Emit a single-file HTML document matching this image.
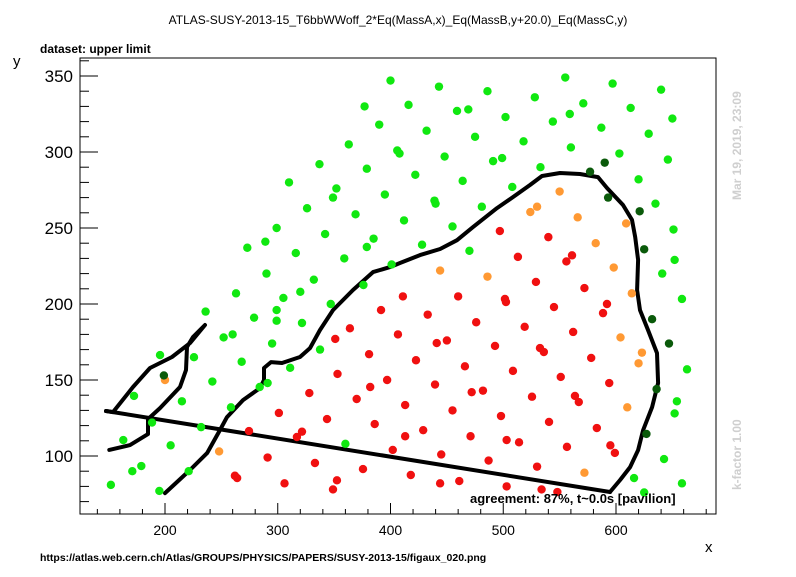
<!DOCTYPE html>
<html><head><meta charset="utf-8"><style>
html,body{margin:0;padding:0;background:#fff;}
body{width:796px;height:572px;overflow:hidden;font-family:"Liberation Sans",Arial,sans-serif;}
svg text{font-family:"Liberation Sans",Arial,sans-serif;}
</style></head><body>
<svg id="chart" width="796" height="572" viewBox="0 0 796 572" xmlns="http://www.w3.org/2000/svg">
<rect x="0" y="0" width="796" height="572" fill="#fff"/>
<text x="398" y="24" font-size="12" text-anchor="middle">ATLAS-SUSY-2013-15_T6bbWWoff_2*Eq(MassA,x)_Eq(MassB,y+20.0)_Eq(MassC,y)</text>
<text x="40" y="53" font-size="12" font-weight="bold">dataset: upper limit</text>
<text x="13" y="66" font-size="15">y</text>
<text x="705" y="552" font-size="15">x</text>
<text x="40" y="561" font-size="10.5" font-weight="bold">https://atlas.web.cern.ch/Atlas/GROUPS/PHYSICS/PAPERS/SUSY-2013-15/figaux_020.png</text>
<text transform="translate(741,200) rotate(-90)" font-size="12" font-weight="bold" fill="#cfcfcf">Mar 19, 2019, 23:09</text>
<text transform="translate(741,490) rotate(-90)" font-size="12" font-weight="bold" fill="#cfcfcf">k-factor 1.00</text>
<g id="axes"></g>
<g id="lines"></g>
<g id="points"></g>
<text x="470" y="503" font-size="13" font-weight="bold">agreement: 87%, t~0.0s [pavilion]</text>
</svg>
<script>
// ---- data ----
const xTicks = [200, 300, 400, 500, 600];
const yTicks = [100, 150, 200, 250, 300, 350];
const greenX = [443,416,486,459,469,555,528,597,640,571,559,544,502,613,650,432,475,518,587,629,408,448,491,499,560,603,646,422,464,533,508,620,439,440,481,412,455,635,651,428,470,652,641,
400,377,390,363,406,337,379,310,352,349,395,326,369,299,342,289,273,316,385,379,359,290,332,401,376,
263,305,320,236,279,299,299,321.5,347,252,260,295,337.5,195.6,225.7,268,311,242,291,284,172.5,215,258.5,188.5,232,163,205,360,171,179,221,152,195,
658.5,663,654,652,642.6,658.5,616,625];
const greenY = [343,331,340,327,328,349,336,345,341,332,325,320,323,329,322,314,310,307,316,312,299,297,294,296,303,299,295,285,281,290,277,282,268,266,264,255,251,266,249,239,235,229,220,
347,330,318,305,301,292,289,280,276,270,272,263,259,250,246,241,237,233.5,243,237.5,230,220,216,226,212.5,
207,204,208,195,191,196,189,187.5,200,178,180,174,170,166.4,165,162,158,149,148,145.4,139.5,136,132,122,119,110.5,107,108,90,93.4,90,81,77,
203.3,157,136,128,98,82,85.5,76];
const darkX = [577,590,593,621,625,199,632,647,636,627];
const darkY = [287,293,270,261,236,153,190,174,144,114.5];
const orangeX = [550,524,530,566,609,582,444,486,598,614,604,623,620,610,572,200,248];
const orangeY = [274,260.5,264,257,253,240,222,218,224,207,178,168,161,132,89,150,103];
const redX = [497,540,513,561,556,529,572,
391.6,406.6,364,351,381,353,397,382,370,328,301,343.7,386,274.5,321.5,317,402,291,333,375.6,262,264,306,352.5,349,
411,460,501.5,502.4,545,592,588.5,433,476,519,562,441,450,492.7,532.6,536,422.6,466,508.6,551,578,594,439.5,472,482,525.5,563.6,567,413,455,498,540.6,583,413,429,471,503,514,556.5,595,599,445,487,530,418,444,461,503,534,548];
const redY = [248,244,231,232,228,214.5,210.5,
196,180,184,177,167,154,150,145.4,137.5,141.4,128.3,124.3,121,116.4,116,112.5,104,99,95.4,91.4,87,85.5,82,84,78,
205,205,203.3,201.3,198,200,194,193,188,185,181.6,174.3,176,172.4,171,168.4,163,159,156,152,164.5,148,147,142,143,139,139.5,135.5,133.5,130,126.3,122.4,118.4,113,117,113,110.5,109,106,107,102,101,97,93,87.5,82,83.5,80,78,76.3];
// contour lines
const lineAX = [147.7, 594.7];
const lineAY = [129.6, 76.3];
const lineBX = [594.7,603.6,612.5,619.6,624,632,637.3,636.4,628.4,621.3,618.7,619.6,617,614.2,606.2,592,584,568,550.3,534.4,523.7,508.7,494.5,473.2,459,444,426.2,408.4,399.6,384.5,366.7,349,337.5,328.6,319.7,303.8,294,287.8,287.8,284.3,269.2,255,248.8,237.3,222.2,200];
const lineBY = [76.3,84.2,92.7,103.9,117,132.2,148,167.7,182.9,196,209.2,229,244,255.3,265.1,276.3,283.5,285.5,286.2,284.2,278.3,270.4,263.1,250.6,242,236.2,232.2,227,224.3,221,209.2,196,182.9,171,165.1,161.2,161.8,157.9,150,144.7,136.8,125.6,117.1,101.9,90.8,75.6];
const lineCX = [150.6,169,184.9,184.9,195.6,213.3,218.6,219.5,224.8,235.5,222.2,206.2,186.7,171.6,153.9,147.7];
const lineCY = [104,107.2,114.4,124.3,131.5,145.4,156.5,171.7,178.3,186.2,174.3,165.1,157.9,145.4,128.9,129.6];

// ---- scales ----
const L=80,R=716,T=58,B=514;
const sx = v => 165 + (v-200)*1.1275;
const sy = v => 76 + (350-v)*1.52;
const NS="http://www.w3.org/2000/svg";
function mk(tag, attrs, parent){const e=document.createElementNS(NS,tag);for(const k in attrs)e.setAttribute(k,attrs[k]);parent.appendChild(e);return e;}

const axes=document.getElementById('axes');
const frame=mk('rect',{x:L,y:T,width:R-L,height:B-T,fill:'none',stroke:'#000','stroke-width':1},axes);


// x minor ticks every 20
for(let v=140; v<=680; v+=20){
  const px=sx(v); if(px<L||px>R) continue;
  const major = v%100===0;
  const t=mk('line',{x1:px,x2:px,y1:B,y2:B-(major?11:5),stroke:'#000','stroke-width':1},axes);
  
  
}
xTicks.forEach(v=>{
  const t=mk('text',{x:sx(v),y:535,'font-size':14,'text-anchor':'middle'},axes);
  t.textContent=v;
  
  
});
for(let v=70; v<=360; v+=10){
  const py=sy(v); if(py<T||py>B) continue;
  const major=v%50===0;
  const t=mk('line',{x1:L,x2:L+(major?18:9),y1:py,y2:py,stroke:'#000','stroke-width':1},axes);
  
  
}
yTicks.forEach(v=>{
  const t=mk('text',{x:73,y:sy(v)+6,'font-size':17,'text-anchor':'end'},axes);
  t.textContent=v;
  
  
});

// ---- contour lines ----
const lg=document.getElementById('lines');
function drawLine(xs,ys,name){
  const pts=xs.map((x,i)=>sx(x).toFixed(1)+','+sy(ys[i]).toFixed(1)).join(' ');
  const p=mk('polyline',{points:pts,fill:'none',stroke:'#000','stroke-width':4,'stroke-linejoin':'round','stroke-linecap':'round'},lg);
  
  
}
drawLine(lineAX,lineAY,'exclusion-contour-bottom');
drawLine(lineBX,lineBY,'exclusion-contour-main');
drawLine(lineCX,lineCY,'exclusion-contour-loop');

// ---- points ----
const pg=document.getElementById('points');
function drawPts(xs,ys,color,name){
  xs.forEach((x,i)=>{
    const c=mk('circle',{cx:sx(x),cy:sy(ys[i]),r:4.2,fill:color},pg);
    
    
  });
}
drawPts(greenX,greenY,'#10e810','point-allowed');
drawPts(redX,redY,'#f01010','point-excluded');
drawPts(orangeX,orangeY,'#ff9933','point-borderline');
drawPts(darkX,darkY,'#0a5a0a','point-allowed-near');
</script>
</body></html>
